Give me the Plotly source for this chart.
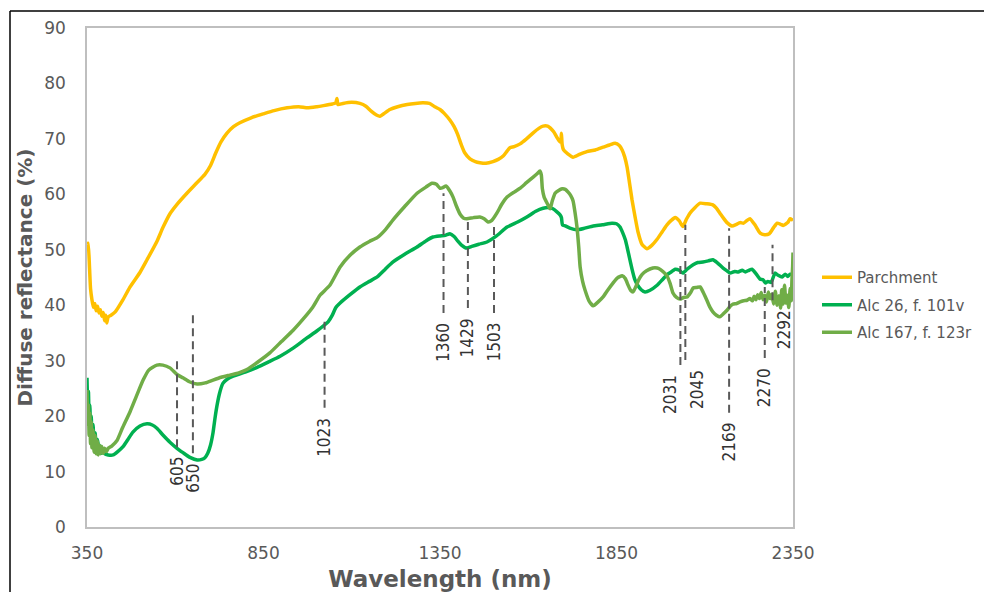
import plotly.graph_objects as go

# ---- spectra (wavelength in nm, diffuse reflectance in %) ----
parch_nm = [350, 353, 357, 360, 364, 368, 372, 376, 380, 384, 388, 392, 396, 400, 403, 406, 410, 418, 430,
            452, 472, 500, 520, 548, 565, 585, 605, 633, 660, 684, 700, 715, 730, 746, 765, 783, 815, 849,
            880, 917, 950, 975, 1001, 1020, 1045, 1055, 1058, 1061, 1075, 1100, 1123, 1140, 1155, 1170,
            1180, 1192, 1208, 1230, 1257, 1280, 1302, 1320, 1335, 1350, 1362, 1378, 1390, 1400, 1410,
            1420, 1435, 1450, 1463, 1480, 1500, 1515, 1529, 1540, 1548, 1560, 1577, 1595, 1614, 1630,
            1642, 1655, 1662, 1672, 1681, 1688, 1692, 1694, 1696, 1700, 1712, 1727, 1745, 1766, 1790,
            1812, 1830, 1846, 1858, 1866, 1873, 1880, 1887, 1894, 1903, 1911, 1922, 1936, 1950, 1965,
            1980, 1993, 2005, 2016, 2028, 2038, 2048, 2058, 2072, 2087, 2105, 2123, 2133, 2143, 2153,
            2163, 2177, 2190, 2200, 2210, 2220, 2228, 2242, 2257, 2270, 2283, 2295, 2305, 2315, 2322,
            2335, 2342, 2350]
parch_r = [51.0, 51.2, 47.0, 43.0, 41.0, 39.6, 40.3, 39.0, 39.8, 38.6, 39.2, 38.0, 38.7, 37.2, 38.2, 36.8,
           37.9, 38.2, 38.8, 41.0, 43.3, 45.9, 48.2, 51.5, 54.0, 56.5, 58.2, 60.2, 62.0, 63.6, 65.2, 67.5,
           69.5, 71.0, 72.2, 72.9, 73.8, 74.5, 75.1, 75.6, 75.8, 75.6, 75.8, 76.0, 76.3, 76.5, 77.3, 76.2,
           76.4, 76.6, 76.4, 75.9, 75.0, 74.3, 74.1, 74.6, 75.3, 75.8, 76.2, 76.4, 76.5, 76.4, 75.8, 75.3,
           74.6, 73.4, 72.2, 70.8, 69.0, 67.5, 66.4, 65.9, 65.7, 65.6, 65.9, 66.3, 66.9, 67.8, 68.4, 68.6,
           69.1, 70.0, 71.1, 71.9, 72.3, 72.3, 72.0, 71.3, 70.3, 69.6, 69.4, 71.0, 69.0, 68.0, 67.3, 66.7,
           67.2, 67.7, 68.0, 68.5, 68.9, 69.2, 68.8, 68.0, 66.8, 64.9, 62.0, 59.0, 55.8, 53.2, 51.0, 50.2,
           50.8, 51.9, 53.3, 54.5, 55.3, 55.8, 55.2, 54.2, 55.5, 56.6, 57.6, 58.4, 58.3, 58.1, 57.5, 56.6,
           55.7, 54.9, 54.3, 54.6, 54.9, 54.8, 55.3, 55.6, 54.5, 53.0, 52.7, 52.9, 54.0, 54.8, 54.6, 54.4,
           54.9, 55.6, 55.3]

alc26_nm = [350, 352, 354, 356, 358, 360, 362, 364, 367, 370, 373, 376, 380, 384, 388, 392, 396, 400, 410,
            424, 437, 452, 466, 480, 500, 520, 535, 548, 565, 585, 605, 622, 640, 662, 675, 684, 692, 700,
            707, 713, 718, 725, 735, 748, 764, 800, 832, 865, 897, 935, 973, 1000, 1020, 1033, 1045, 1055,
            1067, 1095, 1123, 1150, 1172, 1195, 1217, 1250, 1285, 1310, 1330, 1350, 1365, 1378, 1390,
            1400, 1410, 1426, 1440, 1460, 1483, 1510, 1540, 1570, 1596, 1620, 1642, 1660, 1670, 1682,
            1690, 1694, 1697, 1705, 1718, 1738, 1760, 1784, 1810, 1837, 1850, 1860, 1868, 1875, 1880,
            1887, 1894, 1901, 1908, 1920, 1931, 1945, 1965, 1980, 1993, 2005, 2016, 2028, 2038, 2050,
            2067, 2080, 2095, 2110, 2123, 2135, 2152, 2163, 2172, 2185, 2195, 2206, 2215, 2225, 2234,
            2245, 2257, 2265, 2272, 2279, 2288, 2299, 2308, 2319, 2328, 2335, 2342, 2350]
alc26_r = [26.9, 22.0, 24.5, 19.5, 22.0, 17.5, 20.0, 16.0, 18.5, 15.2, 17.0, 14.5, 15.8, 13.6, 14.6, 13.3,
           13.8, 13.2, 13.0, 13.0, 13.6, 14.5, 15.8, 17.1, 18.2, 18.6, 18.4, 17.8, 16.6, 15.3, 14.2, 13.4,
           12.6, 12.1, 12.2, 12.5, 13.3, 14.8, 17.0, 19.8, 21.8, 24.0, 25.9, 26.7, 27.2, 28.0, 28.8, 29.8,
           30.8, 32.3, 34.1, 35.3, 36.3, 37.0, 38.2, 39.6, 40.4, 41.9, 43.3, 44.3, 45.1, 46.5, 47.8, 49.2,
           50.5, 51.6, 52.3, 52.5, 52.6, 52.9, 52.4, 51.6, 50.9, 50.3, 50.6, 51.0, 51.4, 52.5, 54.1, 55.0,
           55.9, 56.9, 57.5, 57.6, 57.4, 56.8, 56.3, 55.8, 54.5, 54.3, 53.9, 53.6, 53.9, 54.3, 54.5, 54.8,
           54.7, 54.1, 53.0, 51.8, 50.5, 48.5, 46.5, 44.8, 43.8, 42.8, 42.4, 42.7, 43.6, 44.6, 45.5, 46.0,
           46.5, 46.3, 45.8, 46.5, 47.3, 47.7, 47.8, 48.0, 48.2, 47.7, 46.7, 46.2, 45.8, 46.1, 46.0, 46.3,
           46.0, 46.3, 46.5, 45.7, 44.7, 44.6, 44.0, 44.3, 44.1, 45.8, 45.4, 45.1, 45.6, 45.2, 45.6, 45.5]

alc167_nm = [350, 352, 354, 356, 358, 360, 362, 364, 367, 370, 373, 376, 379, 382, 385, 388, 392, 396, 400,
             405, 410, 420, 435, 450, 472, 490, 509, 525, 548, 565, 585, 605, 622, 640, 662, 685, 707, 730,
             755, 780, 803, 835, 868, 900, 934, 962, 990, 1010, 1038, 1067, 1095, 1123, 1150, 1172, 1195,
             1217, 1250, 1285, 1310, 1327, 1340, 1350, 1358, 1367, 1378, 1387, 1397, 1407, 1417, 1426,
             1445, 1463, 1475, 1486, 1497, 1511, 1525, 1540, 1560, 1577, 1595, 1614, 1625, 1633, 1637,
             1640, 1645, 1655, 1662, 1668, 1676, 1686, 1696, 1705, 1713, 1720, 1727, 1733, 1738, 1743,
             1747, 1754, 1761, 1772, 1784, 1798, 1812, 1826, 1840, 1852, 1866, 1875, 1883, 1890, 1897,
             1905, 1913, 1922, 1935, 1953, 1965, 1973, 1983, 1993, 2002, 2010, 2020, 2030, 2040, 2050,
             2060, 2067, 2077, 2087, 2095, 2106, 2115, 2123, 2133, 2143, 2152, 2163, 2172, 2180, 2190,
             2200, 2210, 2220, 2228, 2235, 2240, 2245, 2250, 2255, 2260, 2265, 2270, 2275, 2280, 2285,
             2290, 2295, 2300, 2305, 2310, 2315, 2318, 2322, 2326, 2330, 2334, 2338, 2342, 2345, 2347,
             2349, 2350]
alc167_r = [24.7, 18.5, 22.0, 16.5, 20.5, 15.0, 19.0, 14.3, 17.5, 13.5, 16.5, 13.2, 15.5, 13.0, 14.8, 13.2,
            14.5, 13.3, 14.2, 13.6, 14.2, 14.6, 15.6, 17.8, 20.8, 23.6, 26.5, 28.3, 29.2, 29.2, 28.7, 27.5,
            26.9, 26.2, 25.8, 26.0, 26.5, 27.0, 27.4, 27.8, 28.4, 29.8, 31.4, 33.4, 35.5, 37.5, 39.7, 41.8,
            43.6, 46.9, 49.0, 50.5, 51.5, 52.2, 53.6, 55.4, 57.8, 60.2, 61.3, 62.0, 61.8, 61.1, 61.2, 61.5,
            60.6, 59.5, 57.8, 56.4, 55.7, 55.6, 55.8, 55.9, 55.6, 55.0, 55.3, 56.6, 58.2, 59.5, 60.4, 61.1,
            62.1, 63.1, 63.7, 64.2, 63.5, 61.0, 59.5, 58.2, 57.4, 58.8, 60.2, 60.7, 61.0, 60.9, 60.4, 59.8,
            58.8, 56.5, 54.1, 50.5, 46.9, 44.3, 42.7, 40.8, 39.9, 40.6, 41.5, 42.8, 44.0, 44.9, 45.3, 44.8,
            43.6, 42.7, 42.4, 43.4, 44.6, 45.5, 46.2, 46.7, 46.7, 46.5, 46.0, 45.3, 43.9, 42.2, 41.4, 41.1,
            41.4, 41.5, 42.3, 43.1, 43.2, 43.3, 42.4, 40.9, 39.6, 38.8, 38.2, 37.9, 38.4, 39.1, 39.8, 40.2,
            40.3, 40.6, 40.8, 40.9, 41.2, 40.8, 41.6, 41.0, 41.9, 41.2, 42.3, 41.0, 41.8, 40.6, 42.4, 41.2,
            42.0, 40.2, 42.5, 40.0, 41.7, 39.5, 42.8, 40.2, 43.6, 40.4, 41.8, 39.6, 43.0, 40.8, 44.5, 47.0,
            49.5]

series_names = ["Parchment", "Alc 26, f. 101v", "Alc 167, f. 123r"]
series_colors = ["#FFC000", "#00B050", "#70AD47"]

# ---- absorption features marked with dashed guides (nm) ----
feature_nm = [605, 650, 1023, 1360, 1429, 1503, 2031, 2045, 2169, 2270, 2292]
feature_text = ["605", "650", "1023", "1360", "1429", "1503", "2031", "2045", "2169", "2270", "2292"]

# vertical extent of each guide (reflectance units) and label anchoring
guide_top = [30.5, 39.0, 37.3, 60.2, 55.0, 54.5, 47.3, 54.5, 53.9, 43.3, 50.9]
guide_bottom = [14.4, 13.3, 21.5, 38.6, 39.5, 38.6, 29.2, 30.1, 20.6, 30.5, 40.9]
label_anchor = ["center", "center", "center", "center", "center", "center",
                "right", "left", "center", "center", "left"]

x_ticks = [350, 850, 1350, 1850, 2350]
y_ticks = [0, 10, 20, 30, 40, 50, 60, 70, 80, 90]

W, H = 984, 592
ML, MR, MT, MB = 87, 191, 28, 65
GREY = "#595959"
FONT = "DejaVu Sans"

fig = go.Figure()
for name, xs, ys, col in zip(series_names, [parch_nm, alc26_nm, alc167_nm],
                             [parch_r, alc26_r, alc167_r], series_colors):
    fig.add_trace(go.Scatter(x=xs, y=ys, mode="lines", name=name, legendgroup=name,
                             line=dict(color=col, width=3.5, shape="spline", smoothing=0.5),
                             hoverinfo="skip"))

for nm, txt, top, bot, anc in zip(feature_nm, feature_text, guide_top, guide_bottom, label_anchor):
    fig.add_shape(type="line", xref="x", yref="y", x0=nm, x1=nm, y0=bot, y1=top,
                  line=dict(color=GREY, width=2, dash="8px,5px"))
    fig.add_annotation(x=nm, y=bot, xref="x", yref="y", text=txt, showarrow=False,
                       textangle=-90, xanchor=anc, yanchor="top", yshift=-8,
                       xshift={"right": 1, "left": -1}.get(anc, 0),
                       font=dict(family="Liberation Sans Narrow, DejaVu Sans Condensed, sans-serif",
                                 size=17, color="#333333"))

# outer frame (top and left edges of the chart area)
pw, ph = W - ML - MR, H - MT - MB
fx = (10 - ML) / pw
fy = 1 + (MT - 11) / ph
fig.add_shape(type="line", xref="paper", yref="paper", x0=fx, x1=(W - ML + 5) / pw, y0=fy, y1=fy,
              line=dict(color="#000000", width=1.5))
fig.add_shape(type="line", xref="paper", yref="paper", x0=fx, x1=fx, y0=fy, y1=-(MB + 5) / ph,
              line=dict(color="#000000", width=1.5))

fig.update_layout(
    width=W, height=H,
    margin=dict(l=ML, r=MR, t=MT, b=MB, autoexpand=False),
    paper_bgcolor="white", plot_bgcolor="white",
    font=dict(family=FONT, color=GREY),
    showlegend=True,
    legend=dict(x=(817 - ML) / pw, y=(H - MB - 261) / ph, xanchor="left", yanchor="top",
                font=dict(family=FONT, size=15, color=GREY), itemwidth=30,
                traceorder="grouped", tracegroupgap=5, bgcolor="rgba(0,0,0,0)"),
    xaxis=dict(range=[350, 2350], tickvals=x_ticks, showgrid=False, zeroline=False,
               showline=True, mirror=True, linecolor="#BFBFBF", linewidth=1.5,
               ticks="", ticklabelstandoff=10, tickfont=dict(family=FONT, size=17, color=GREY),
               title=dict(text="<b>Wavelength (nm)</b>", standoff=10,
                          font=dict(family=FONT, size=23, color=GREY)),
               automargin=False),
    yaxis=dict(range=[0, 90], tickvals=y_ticks, showgrid=False, zeroline=False,
               showline=True, mirror=True, linecolor="#BFBFBF", linewidth=1.5,
               ticks="", ticklabelstandoff=16, tickfont=dict(family=FONT, size=17, color=GREY),
               title=dict(text="<b>Diffuse reflectance (%)</b>", standoff=6,
                          font=dict(family=FONT, size=20, color=GREY)),
               automargin=False),
)

fig.write_html("out.html")
